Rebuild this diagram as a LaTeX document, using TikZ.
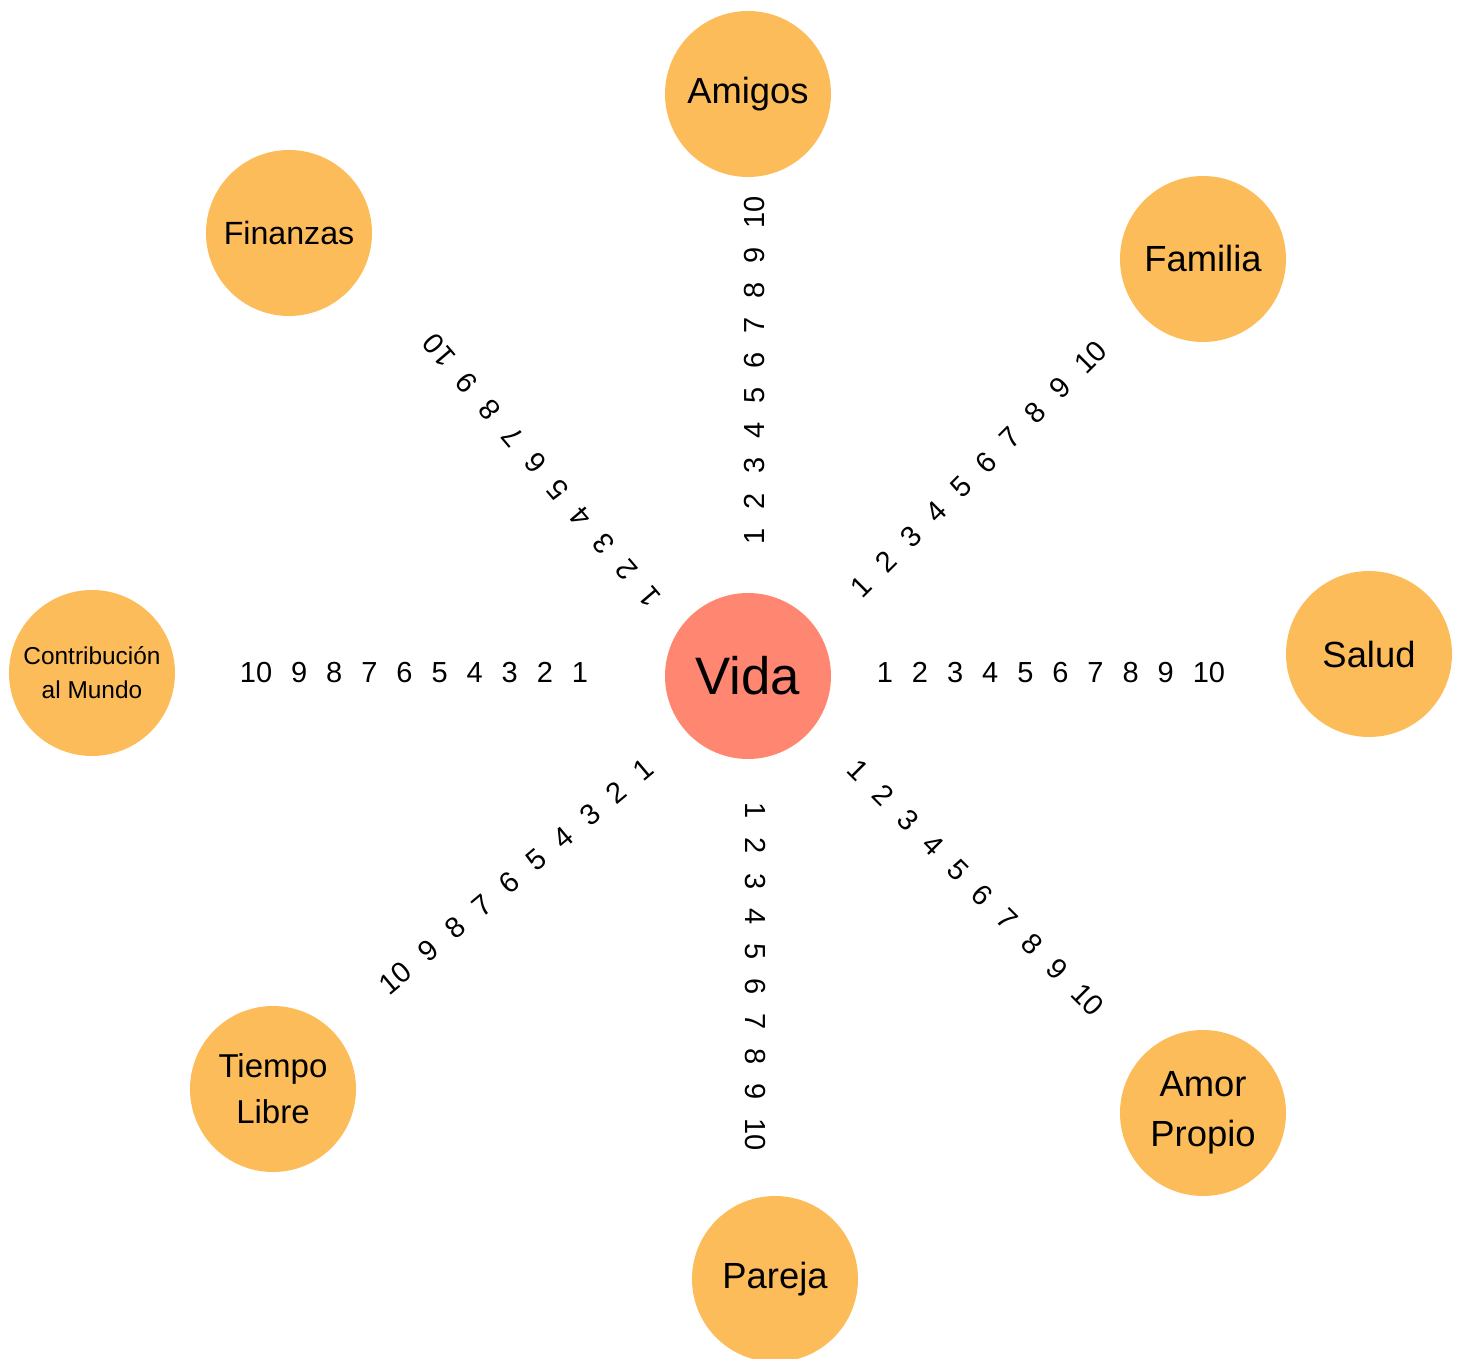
\documentclass[tikz,border=0pt]{standalone}
\usepackage{fontspec}
\setmainfont{Liberation Sans}

\definecolor{areaorange}{RGB}{253,188,90}
\definecolor{lifered}{RGB}{255,134,112}

% spacing of the rating numbers
\newcommand\numgap{\hspace{10.8pt}}
\newcommand\upnums{1\numgap2\numgap3\numgap4\numgap5\numgap6\numgap7\numgap8\numgap9\numgap10}
\newcommand\downnums{10\numgap9\numgap8\numgap7\numgap6\numgap5\numgap4\numgap3\numgap2\numgap1}

\tikzset{
  area/.style={circle, fill=areaorange, minimum size=3.32cm, inner sep=0pt,
    align=center, font=\fontsize{20.7}{28}\selectfont},
  nums/.style={inner sep=0pt, font=\fontsize{16.5}{20}\selectfont}
}

\begin{document}
\begin{tikzpicture}

\useasboundingbox (-14.96,-13.64) rectangle (14.28,13.52);

% centre
\node[area, fill=lifered, font=\fontsize{30}{36}\selectfont] (vida) at (0,0) {Vida};

% areas of life
\node[area] (amigos) at (0,11.64) {Amigos};
\node[area] (familia) at (9.10,8.34) {Familia};
\node[area] (salud) at (12.42,0.44) {Salud};
\node[area, font=\fontsize{20.7}{28.3}\selectfont] (amor) at (9.10,-8.74) {Amor\\Propio};
\node[area] (pareja) at (0.54,-12.06) {Pareja};
\node[area, font=\fontsize{18.8}{26}\selectfont] (tiempo) at (-9.50,-8.26) {Tiempo\\Libre};
\node[area, font=\fontsize{13.9}{19.3}\selectfont] (mundo) at (-13.12,0.06) {Contribución\\al Mundo};
\node[area, font=\fontsize{18.3}{24}\selectfont] (finanzas) at (-9.18,8.86) {Finanzas};

% scales 1 - 10
\node[nums, rotate=90] (sAmigos) at (0.14,6.12) {\upnums};
\node[nums, rotate=45] (sFamilia) at (4.62,4.14) {\upnums};
\node[nums] (sSalud) at (6.06,0.06) {\upnums};
\node[nums, rotate=-45] (sAmor) at (4.56,-4.24) {\upnums};
\node[nums, rotate=-90] (sPareja) at (0.14,-6.02) {\upnums};
\node[nums, rotate=40] (sTiempo) at (-4.63,-4.01) {\downnums};
\node[nums] (sMundo) at (-6.68,0.06) {\downnums};
\node[nums, rotate=130.5] (sFinanzas) at (-4.13,4.11) {\upnums};

\end{tikzpicture}
\end{document}
